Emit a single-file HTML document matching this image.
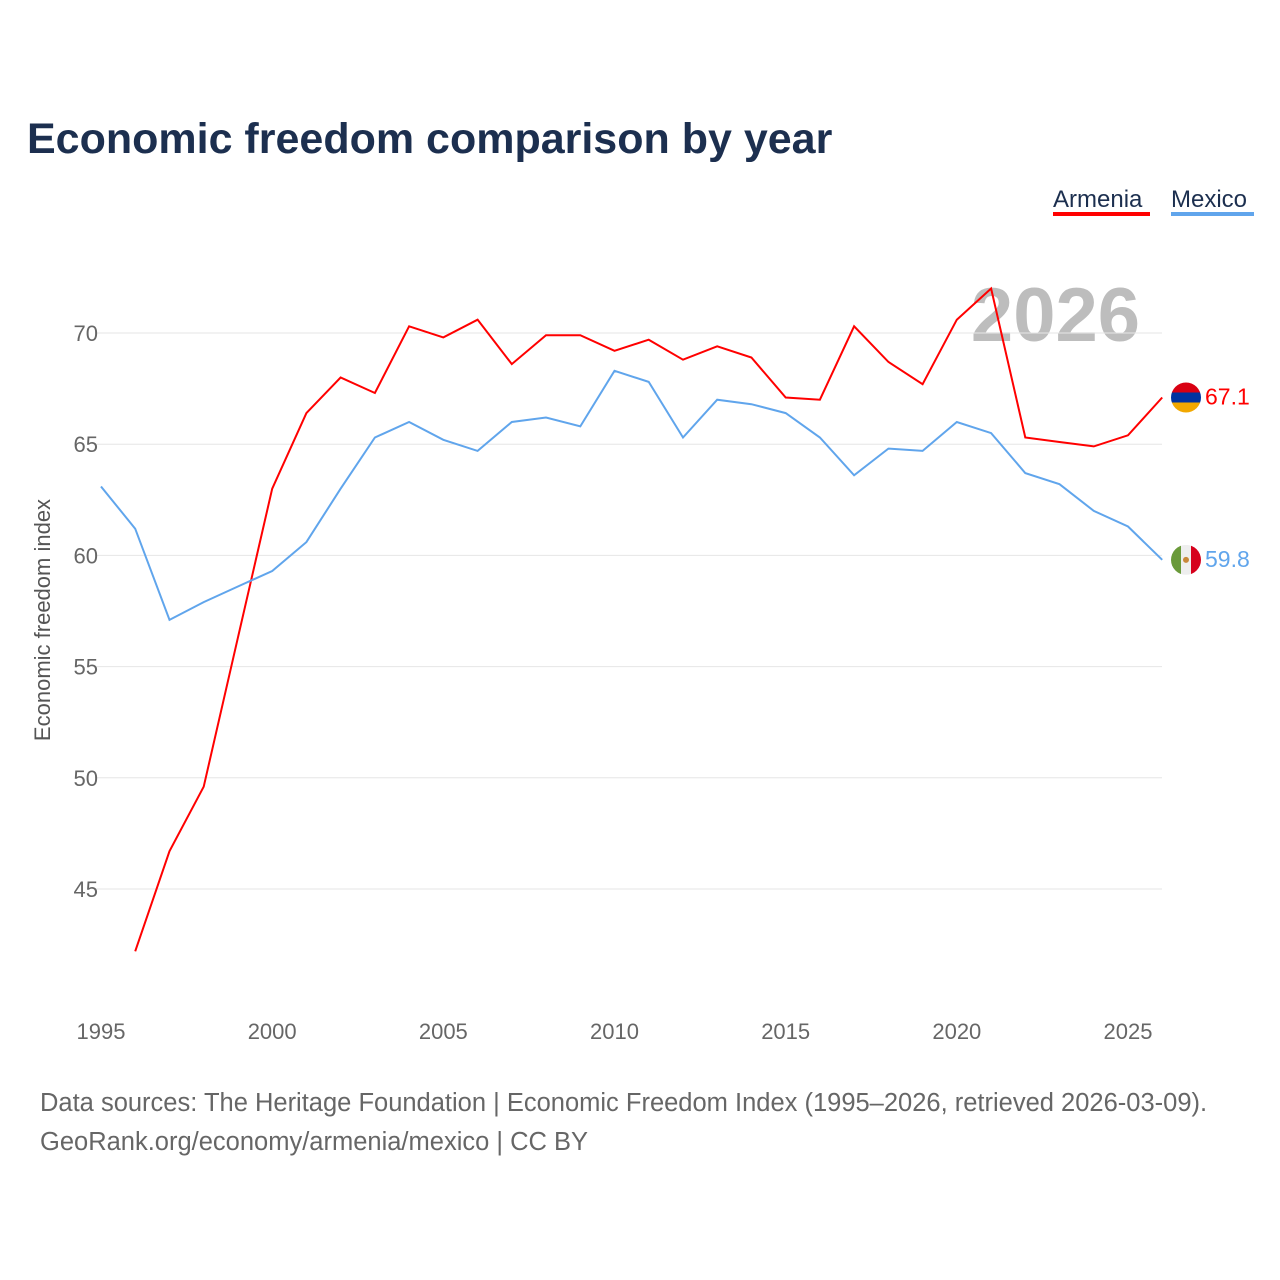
<!DOCTYPE html>
<html><head><meta charset="utf-8">
<style>
body{margin:0;background:#fff;font-family:"Liberation Sans",sans-serif;}
#wrap{position:relative;width:1280px;height:1280px;overflow:hidden;}
</style></head>
<body>
<div id="wrap">
<svg id="chart" width="1280" height="1280">
<text x="27" y="153" font-size="43" font-weight="bold" fill="#1c2f4f">Economic freedom comparison by year</text>
<g>
<text x="1053" y="207" font-size="24" fill="#1c2f4f">Armenia</text>
<rect x="1053" y="212" width="97" height="4" fill="#ff0000"/>
<text x="1171" y="207" font-size="24" fill="#1c2f4f">Mexico</text>
<rect x="1171" y="212" width="83" height="4" fill="#60a5ec"/>
</g>
<text x="1140" y="341" font-size="76" font-weight="bold" fill="#bdbdbd" text-anchor="end">2026</text>
<text transform="translate(50,620) rotate(-90)" font-size="22" fill="#555" text-anchor="middle">Economic freedom index</text>
<g id="grid"></g><g id="lines"></g><g id="labels"></g>
<text x="40" y="1111" font-size="25.5" fill="#666">Data sources: The Heritage Foundation | Economic Freedom Index (1995–2026, retrieved 2026-03-09).</text>
<text x="40" y="1150" font-size="25.5" fill="#666">GeoRank.org/economy/armenia/mexico | CC BY</text>
</svg>
</div>
<script>
const years=[1995,1996,1997,1998,1999,2000,2001,2002,2003,2004,2005,2006,2007,2008,2009,2010,2011,2012,2013,2014,2015,2016,2017,2018,2019,2020,2021,2022,2023,2024,2025,2026];
const armenia=[null,42.2,46.7,49.6,56.3,63.0,66.4,68.0,67.3,70.3,69.8,70.6,68.6,69.9,69.9,69.2,69.7,68.8,69.4,68.9,67.1,67.0,70.3,68.7,67.7,70.6,72.0,65.3,65.1,64.9,65.4,67.1];
const mexico=[63.1,61.2,57.1,57.9,58.6,59.3,60.6,63.0,65.3,66.0,65.2,64.7,66.0,66.2,65.8,68.3,67.8,65.3,67.0,66.8,66.4,65.3,63.6,64.8,64.7,66.0,65.5,63.7,63.2,62.0,61.3,59.8];
const yTicks=[45,50,55,60,65,70];
const xTicks=[1995,2000,2005,2010,2015,2020,2025];
const NS="http://www.w3.org/2000/svg";
const x=v=>101+(v-1995)*(1128-101)/30;
const y=v=>889-(v-45)*(889-333)/25;
function mk(tag,attrs,parent,txt){const e=document.createElementNS(NS,tag);for(const k in attrs)e.setAttribute(k,attrs[k]);if(txt!=null)e.textContent=txt;parent.appendChild(e);return e;}
const grid=document.getElementById('grid'),lines=document.getElementById('lines'),labels=document.getElementById('labels');
yTicks.forEach(t=>{
 const l=mk('line',{x1:95,x2:1162,y1:y(t),y2:y(t),stroke:'#e6e6e6','stroke-width':1},grid);
 
 
 const tx=mk('text',{x:98,y:y(t)+8,'font-size':22,fill:'#666','text-anchor':'end'},grid,t);
 
 
});
xTicks.forEach(t=>{
 const tx=mk('text',{x:x(t),y:1039,'font-size':22,fill:'#666','text-anchor':'middle'},grid,t);
 
 
});
function path(vals){let d='';vals.forEach((v,i)=>{if(v==null)return;d+=(d?'L':'M')+x(years[i]).toFixed(1)+','+y(v).toFixed(1);});return d;}
const pa=mk('path',{d:path(armenia),fill:'none',stroke:'#ff0000','stroke-width':2},lines);


const pm=mk('path',{d:path(mexico),fill:'none',stroke:'#60a5ec','stroke-width':2},lines);


const la=armenia[armenia.length-1],lm=mexico[mexico.length-1];
const fx=1186;
const ga=mk('g',{},labels);


mk('clipPath',{id:'ca'},ga);mk('circle',{cx:fx,cy:y(la),r:15},document.getElementById('ca'));
mk('rect',{x:fx-15,y:y(la)-15,width:30,height:10,fill:'#d90012','clip-path':'url(#ca)'},ga);
mk('rect',{x:fx-15,y:y(la)-5,width:30,height:10,fill:'#0033a0','clip-path':'url(#ca)'},ga);
mk('rect',{x:fx-15,y:y(la)+5,width:30,height:10,fill:'#f2a800','clip-path':'url(#ca)'},ga);
const ta=mk('text',{x:1205,y:y(la)+7,'font-size':23,fill:'#ff0000'},labels,la.toFixed(1));


const gm=mk('g',{},labels);


mk('clipPath',{id:'cm'},gm);mk('circle',{cx:fx,cy:y(lm),r:15},document.getElementById('cm'));
mk('rect',{x:fx-15,y:y(lm)-15,width:10,height:30,fill:'#6a9a3a','clip-path':'url(#cm)'},gm);
mk('rect',{x:fx-5,y:y(lm)-15,width:10,height:30,fill:'#eeeeee','clip-path':'url(#cm)'},gm);
mk('rect',{x:fx+5,y:y(lm)-15,width:10,height:30,fill:'#d6001c','clip-path':'url(#cm)'},gm);
mk('circle',{cx:fx,cy:y(lm),r:3,fill:'#c8873a'},gm);
const tm=mk('text',{x:1205,y:y(lm)+7,'font-size':23,fill:'#60a5ec'},labels,lm.toFixed(1));


</script>
</body></html>
